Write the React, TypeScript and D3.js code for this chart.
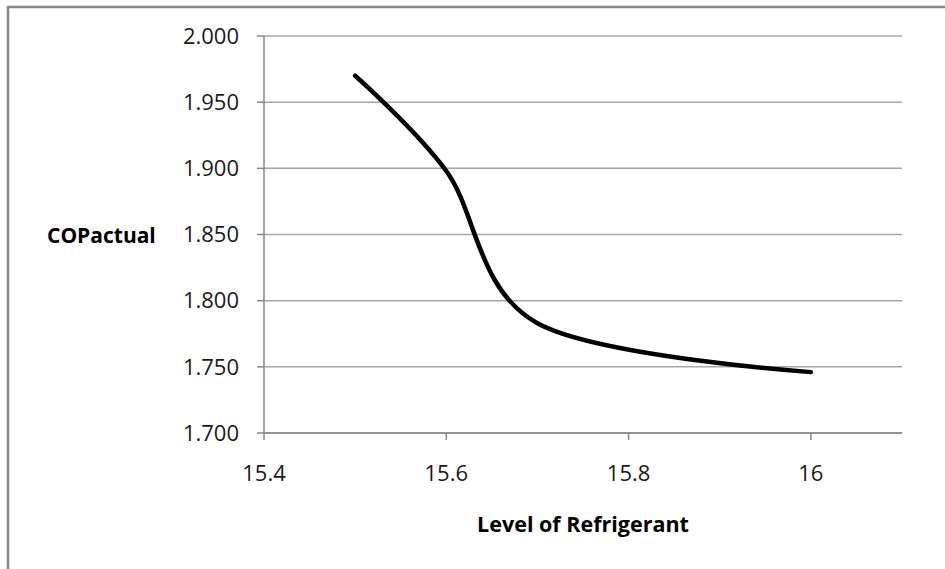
import React from "react";
import * as d3 from "d3";

const levels = [15.5, 15.6, 15.7, 16.0];
const copActual = [1.970, 1.898, 1.783, 1.746];
const yTicks = [1.7, 1.75, 1.8, 1.85, 1.9, 1.95, 2.0];
const xTicks = [15.4, 15.6, 15.8, 16];
const xTickLabels = ["15.4", "15.6", "15.8", "16"];

const W = 945;
const H = 569;
const FONT = "'Open Sans', 'Liberation Sans', sans-serif";

export default function App() {
  const x = d3.scaleLinear().domain([15.4, 16.1]).range([264, 902]);
  const y = d3.scaleLinear().domain([1.7, 2.0]).range([433, 36]);
  const pts: [number, number][] = levels.map((l, i) => [l, copActual[i]]);
  const line = d3
    .line<[number, number]>()
    .x((d) => x(d[0]))
    .y((d) => y(d[1]))
    .curve(d3.curveCardinal.tension(0));
  const fmt = d3.format(".3f");

  return (
    <svg
      width={W}
      height={H}
      style={{ position: "absolute", left: 0, top: 0, background: "#fff" }}
    >
      <rect x={0} y={0} width={W} height={H} fill="#fff" />
      <rect x={8} y={7} width={W + 20} height={H + 20} fill="none" stroke="#868686" strokeWidth={2.5} />
      {yTicks.map((t) => (
        <line key={"g" + t} x1={x(15.4)} x2={x(16.1)} y1={y(t)} y2={y(t)} stroke="#a6a6a6" strokeWidth={1.5} />
      ))}
      <line x1={x(15.4)} x2={x(15.4)} y1={y(2.0)} y2={y(1.7)} stroke="#868686" strokeWidth={1.5} />
      <line x1={x(15.4)} x2={x(16.1)} y1={y(1.7)} y2={y(1.7)} stroke="#868686" strokeWidth={1.5} />
      {yTicks.map((t) => (
        <g key={"yt" + t}>
          <line x1={x(15.4) - 7} x2={x(15.4)} y1={y(t)} y2={y(t)} stroke="#868686" strokeWidth={1.5} />
          <text
            x={239}
            y={y(t)}
            dy="0.35em"
            textAnchor="end"
            fontFamily={FONT}
            fontSize={22}
            fill="#1a1a1a"
          >
            {fmt(t)}
          </text>
        </g>
      ))}
      {xTicks.map((t, i) => (
        <g key={"xt" + t}>
          <line x1={x(t)} x2={x(t)} y1={y(1.7)} y2={y(1.7) + 7} stroke="#868686" strokeWidth={1.5} />
          <text x={x(t)} y={481} textAnchor="middle" fontFamily={FONT} fontSize={22} fill="#1a1a1a">
            {xTickLabels[i]}
          </text>
        </g>
      ))}
      <path
        d={line(pts) || ""}
        fill="none"
        stroke="#000"
        strokeWidth={4.5}
        strokeLinecap="round"
        strokeLinejoin="round"
      />
      <text x={47} y={243} fontFamily={FONT} fontWeight="bold" fontSize={21} fill="#000">
        COPactual
      </text>
      <text x={583} y={532} textAnchor="middle" fontFamily={FONT} fontWeight="bold" fontSize={21.5} fill="#000">
        Level of Refrigerant
      </text>
    </svg>
  );
}
